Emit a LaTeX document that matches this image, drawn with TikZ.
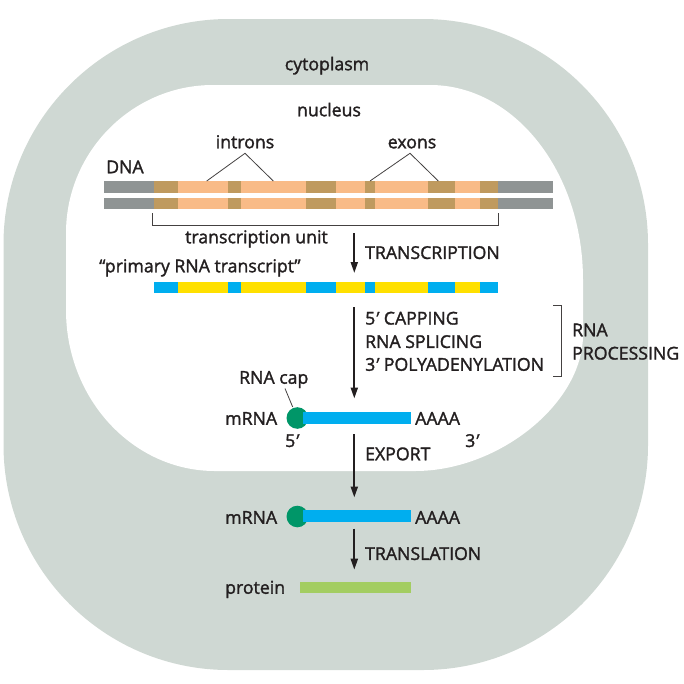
\documentclass[tikz,border=0pt]{standalone}
\usepackage{fontspec}
\setmainfont{Open Sans}[RawFeature={embolden=1.6}]
\newfontfamily\primefont{Open Sans}[RawFeature={slant=0.35;embolden=1.6}]
\newcommand{\prm}{{\kern-3pt\primefont\char"27\kern3pt}}
\usetikzlibrary{arrows.meta}
\definecolor{cyto}{RGB}{207,216,211}
\definecolor{txt}{RGB}{35,31,32}
\definecolor{dnagrey}{RGB}{143,148,148}
\definecolor{exonbrown}{RGB}{191,154,95}
\definecolor{intronpeach}{RGB}{249,187,135}
\definecolor{rnablue}{RGB}{0,174,239}
\definecolor{rnayellow}{RGB}{255,224,0}
\definecolor{capgreen}{RGB}{0,150,104}
\definecolor{protgreen}{RGB}{163,205,97}
\begin{document}
\begin{tikzpicture}[x=1pt,y=-1pt,
  lbl/.style={font=\fontsize{17.7}{21}\selectfont, text=txt, inner sep=0pt, text height=12.5pt, text depth=0pt},
  flow/.style={draw=txt, line width=2pt, -{Triangle[length=11pt,width=7pt]}},
  leader/.style={draw=txt!85, line width=0.8pt},
  capdot/.style={circle, fill=capgreen, minimum size=21.6pt, inner sep=0pt}]
\useasboundingbox (0,0) rectangle (684,683);
% cytoplasm
\fill[cyto] (228.5,19) -- (423,19) .. controls (547,19) and (648,120) .. (648,244)
  -- (648,445) .. controls (648,569) and (547,670) .. (423,670)
  -- (228.5,670) .. controls (104.5,670) and (3.5,569) .. (3.5,445)
  -- (3.5,244) .. controls (3.5,120) and (104.5,19) .. (228.5,19) -- cycle;
% nucleus
\fill[white] (66,233) .. controls (66,152) and (132,85) .. (213,85)
  -- (430,85) .. controls (514.5,85) and (583,172) .. (583,280)
  -- (583,335) .. controls (583,403) and (499,471) .. (415,471)
  -- (215,471) .. controls (133,471) and (66,399) .. (66,310) -- cycle;
% DNA strands
\foreach \ya/\yb in {181/192.7, 197.7/209.3}{
  \foreach \xa/\xb/\c in {103.5/154.3/dnagrey, 154.3/177.7/exonbrown, 177.7/228.3/intronpeach,
     228.3/241/exonbrown, 241/305.7/intronpeach, 305.7/336.3/exonbrown, 336.3/365/intronpeach,
     365/375/exonbrown, 375/427.7/intronpeach, 427.7/455/exonbrown, 455/480/intronpeach,
     480/498.3/exonbrown, 498.3/553/dnagrey}{
    \fill[\c] (\xa,\ya) rectangle (\xb,\yb);
  }
}
% primary transcript
\foreach \xa/\xb/\c in {154.3/177.7/rnablue, 177.7/228.3/rnayellow,
     228.3/241/rnablue, 241/305.7/rnayellow, 305.7/336.3/rnablue, 336.3/365/rnayellow,
     365/375/rnablue, 375/427.7/rnayellow, 427.7/455/rnablue, 455/480/rnayellow,
     480/498.3/rnablue}{
  \fill[\c] (\xa,282.3) rectangle (\xb,293.3);
}
% labels
\node[lbl] (cyt) at (327,64) {cytoplasm};
\node[lbl] (nuc) at (329,110) {nucleus};
\node[lbl] (intr) at (245,142) {introns};
\node[lbl] (exo) at (412,142) {exons};
\node[lbl, anchor=west] (dna) at (106,167) {DNA};
\node[lbl, anchor=west] (tu) at (185,237) {transcription unit};
\node[lbl, anchor=west] (prt) at (99,266) {“primary RNA transcript”};
\node[lbl, anchor=west] (trx) at (365,252.7) {TRANSCRIPTION};
\node[lbl, anchor=west] (cap5) at (365,318.3) {5\prm{} CAPPING};
\node[lbl, anchor=west] (spl) at (365,341.7) {RNA SPLICING};
\node[lbl, anchor=west] (poly) at (365,364.5) {3\prm{} POLYADENYLATION};
\node[lbl, anchor=west] (rnap1) at (572,330) {RNA};
\node[lbl, anchor=west] (rnap2) at (572,353.3) {PROCESSING};
\node[lbl, anchor=west] (capl) at (239,377.5) {RNA cap};
\node[lbl, anchor=west] (m1) at (225,418.5) {mRNA};
\node[lbl, anchor=west] (a1) at (415,418.5) {AAAA};
\node[lbl, anchor=west] (p5) at (285,440.7) {5\prm};
\node[lbl, anchor=west] (p3) at (465,440.7) {3\prm};
\node[lbl, anchor=west] (exp) at (365,454) {EXPORT};
\node[lbl, anchor=west] (m2) at (225,517.5) {mRNA};
\node[lbl, anchor=west] (a2) at (415,517.5) {AAAA};
\node[lbl, anchor=west] (trl) at (365,553.7) {TRANSLATION};
\node[lbl, anchor=west] (prot) at (225,587.5) {protein};
% intron / exon leaders
\coordinate (iapex) at (245,153.3);
\coordinate (i1) at (206.7,181);
\coordinate (i2) at (273.3,181);
\coordinate (eapex) at (410,153.3);
\coordinate (e1) at (370,181);
\coordinate (e2) at (438.3,181);
\draw[leader] (i1) -- (iapex) -- (i2);
\draw[leader] (e1) -- (eapex) -- (e2);
% transcription unit bracket
\draw[leader, line width=1pt] (152.3,213) -- (152.3,225) -- (498,225) -- (498,213);
% RNA processing bracket
\draw[leader, line width=1pt] (553,305.5) -- (561.5,305.5) -- (561.5,376.7) -- (553,376.7);
% mRNA in nucleus
\node[capdot] (cap1) at (297.3,418) {};
\fill[rnablue] (302.7,412) rectangle (410.7,424);
\coordinate (cl1) at (285,388.5);
\coordinate (cl2) at (292.7,407);
\draw[leader] (cl1) -- (cl2);
% mRNA in cytoplasm
\node[capdot] (cap2) at (297.3,516.5) {};
\fill[rnablue] (302.7,510.3) rectangle (410.7,522.3);
% protein
\fill[protgreen] (300,581.5) rectangle (410.5,592.8);
% arrows
\coordinate (t1) at (354.3,233.3); \coordinate (t2) at (354.3,273);
\coordinate (r1) at (354.3,307.3); \coordinate (r2) at (354.3,398.5);
\coordinate (x1) at (354.3,434); \coordinate (x2) at (354.3,497.5);
\coordinate (l1) at (354.3,528.7); \coordinate (l2) at (354.3,569.7);
\draw[flow] (t1) -- (t2);
\draw[flow] (r1) -- (r2);
\draw[flow] (x1) -- (x2);
\draw[flow] (l1) -- (l2);
\end{tikzpicture}
\end{document}
